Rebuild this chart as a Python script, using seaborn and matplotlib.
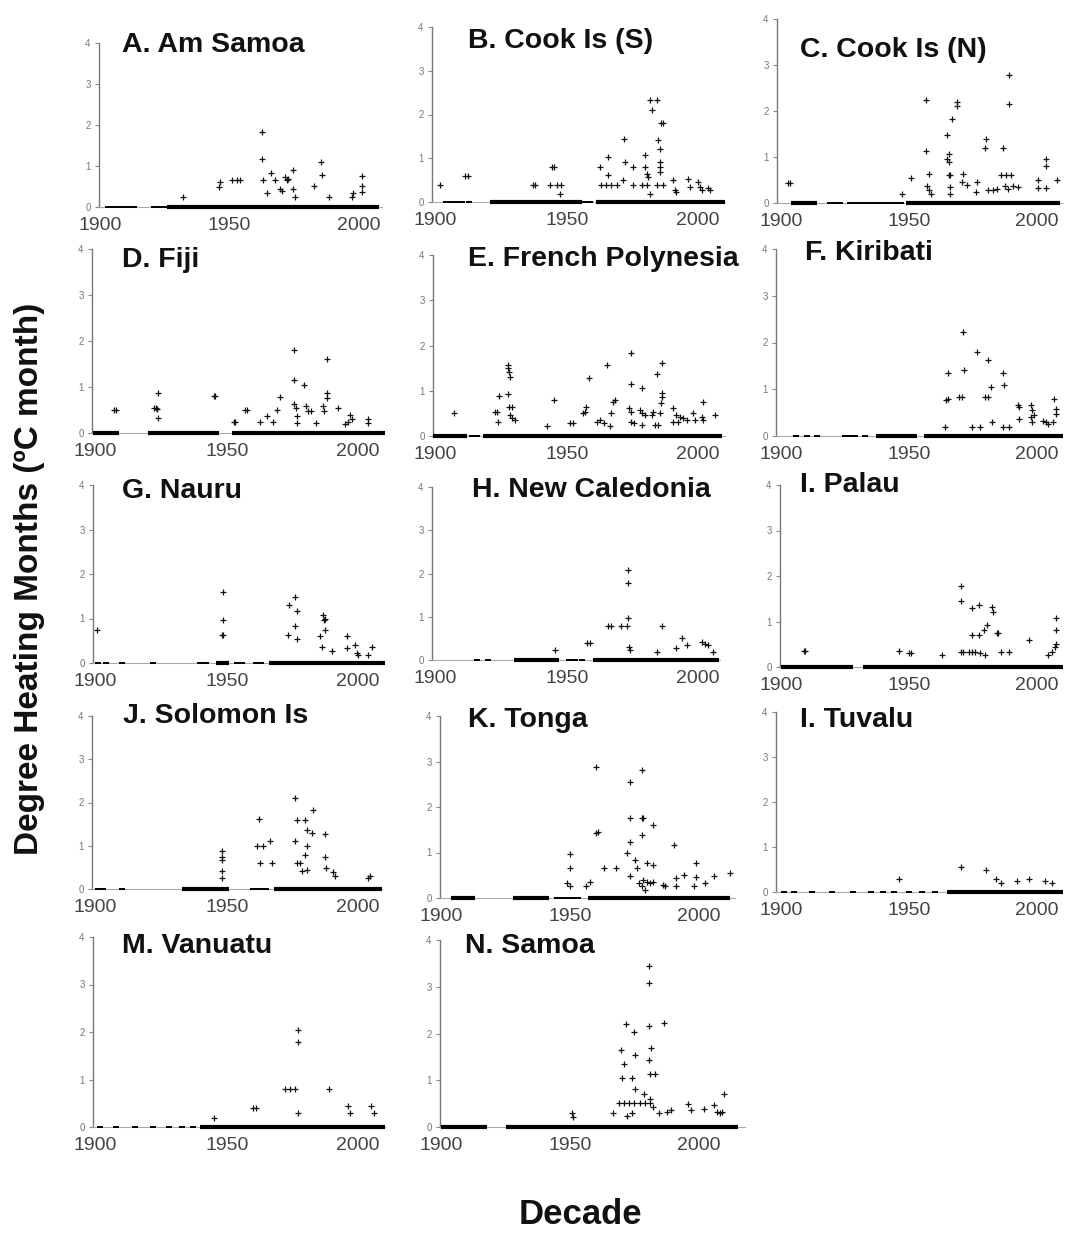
import matplotlib
matplotlib.use("Agg")
import matplotlib.pyplot as plt
import seaborn as sns
import pandas as pd

# ---------------- data (year, degree heating months) ----------------
A_title = "A. Am Samoa"
A_points = [(1932, 0.25), (1946, 0.5), (1946.5, 0.62), (1951, 0.65), (1953, 0.65), (1954, 0.65),
            (1962.7, 1.84), (1962.7, 1.18), (1963, 0.65), (1964.6, 0.34), (1966.2, 0.84), (1967.7, 0.65),
            (1969.6, 0.45), (1970.3, 0.39), (1971.5, 0.73), (1972.2, 0.65), (1972.8, 0.69), (1974.7, 0.9),
            (1974.7, 0.45), (1975.3, 0.25), (1982.9, 0.51), (1985.4, 1.1), (1986, 0.78), (1988.6, 0.25),
            (1997.5, 0.25), (1997.8, 0.34), (2001.3, 0.76), (2001.3, 0.51), (2001.3, 0.37)]
A_zero_years = [1903, 1905, 1907, 1909, 1911, 1913, 1921, 1923, 1925]
A_zero_spans = [(1926, 2008)]

B_title = "B. Cook Is (S)"
B_points = [(1902, 0.4), (1911.5, 0.6), (1912.5, 0.6), (1937.3, 0.4), (1938, 0.4), (1944.3, 0.8), (1945, 0.8),
            (1943.7, 0.4), (1946.2, 0.4), (1948, 0.4), (1947.5, 0.19), (1962.7, 0.8), (1965.8, 1.02),
            (1965.8, 0.61), (1963, 0.4), (1965, 0.4), (1967, 0.4), (1969, 0.4), (1971.5, 0.5), (1971.9, 1.44),
            (1972, 0.92), (1975.3, 0.8), (1975.3, 0.4), (1979.7, 1.07), (1979.7, 0.8), (1980.4, 0.63),
            (1981, 0.57), (1978.7, 0.4), (1980.6, 0.4), (1981.6, 0.19), (1981.6, 2.33), (1984.2, 2.33),
            (1982.3, 2.1), (1986, 1.81), (1986.7, 1.81), (1984.8, 1.41), (1985.4, 1.22), (1985.4, 0.92),
            (1985.4, 0.8), (1985.4, 0.69), (1984.2, 0.4), (1986.7, 0.4), (1990.5, 0.5), (1991.1, 0.27),
            (1991.7, 0.24), (1996.2, 0.52), (1996.8, 0.34), (2000, 0.46), (2000.6, 0.34), (2001.3, 0.27),
            (2003.8, 0.31), (2004.4, 0.27)]
B_zero_years = [1904, 1906, 1908, 1910, 1913, 1957, 1959]
B_zero_spans = [(1921, 1956), (1961, 2010)]

C_title = "C. Cook Is (N)"
C_points = [(1902.9, 0.44), (1903.5, 0.44), (1947.4, 0.2), (1950.9, 0.54), (1956.7, 2.25), (1956.5, 1.14),
            (1957.8, 0.64), (1957, 0.38), (1957.8, 0.28), (1958.4, 0.2), (1964.8, 1.47), (1966.8, 1.83),
            (1965.5, 1.07), (1964.8, 0.95), (1965.5, 0.9), (1965.5, 0.6), (1966, 0.6), (1966, 0.35),
            (1966, 0.2), (1968.7, 2.2), (1968.7, 2.1), (1970.9, 0.64), (1970.7, 0.46), (1972.6, 0.4),
            (1976.5, 0.46), (1976.1, 0.25), (1980, 1.4), (1979.8, 1.2), (1981, 0.28), (1983, 0.28),
            (1984.2, 0.31), (1986.8, 1.2), (1986.1, 0.6), (1988, 0.6), (1990, 0.6), (1987.4, 0.38),
            (1988.7, 0.31), (1990.6, 0.38), (1989, 2.78), (1989, 2.16), (1992.6, 0.35), (2000.3, 0.5),
            (2000.3, 0.32), (2003.5, 0.32), (2003.5, 0.95), (2003.5, 0.8), (2008, 0.5)]
C_zero_years = [1919, 1921, 1923, 1927, 1929, 1931, 1933, 1935, 1937, 1939, 1941, 1943, 1945, 1947]
C_zero_spans = [(1904, 1914), (1949, 2009)]

D_title = "D. Fiji"
D_points = [(1907, 0.5), (1908, 0.5), (1922.4, 0.55), (1923, 0.55), (1923.6, 0.52), (1924, 0.88), (1924, 0.33),
            (1945, 0.8), (1945.6, 0.8), (1952.6, 0.25), (1953.2, 0.25), (1957, 0.5), (1957.6, 0.5),
            (1962.8, 0.25), (1965.4, 0.38), (1967.6, 0.23), (1969, 0.5), (1970.3, 0.78), (1975.6, 1.81),
            (1975.6, 1.16), (1975.6, 0.62), (1976.2, 0.55), (1976.8, 0.38), (1976.8, 0.22), (1979.5, 1.05),
            (1980, 0.58), (1980.8, 0.47), (1982, 0.47), (1984, 0.22), (1986.5, 0.58), (1987, 0.47),
            (1988, 1.61), (1988, 0.87), (1988, 0.76), (1992.3, 0.55), (1995, 0.2), (1996, 0.25),
            (1997, 0.4), (1997.8, 0.3), (2003.8, 0.3), (2003.8, 0.22)]
D_zero_years = []
D_zero_spans = [(1899, 1909), (1920, 1947), (1952, 2010)]

E_title = "E. French Polynesia"
E_points = [(1907, 0.51), (1922.8, 0.52), (1923.6, 0.54), (1924, 0.32), (1924.3, 0.89), (1927.5, 1.57),
            (1927.8, 1.51), (1928, 1.42), (1928.5, 1.31), (1927.8, 0.93), (1928, 0.65), (1929.2, 0.65),
            (1928.5, 0.46), (1929.2, 0.39), (1930.4, 0.35), (1942.4, 0.23), (1945, 0.8), (1951.3, 0.28),
            (1952.5, 0.28), (1956.3, 0.5), (1956.9, 0.54), (1957.5, 0.65), (1958.6, 1.29), (1961.5, 0.32),
            (1962.7, 0.35), (1964, 0.28), (1965.2, 1.57), (1967, 0.5), (1967.6, 0.76), (1968.2, 0.8),
            (1966.3, 0.23), (1974.4, 1.84), (1974.4, 1.16), (1973.8, 0.61), (1974.4, 0.54), (1974.4, 0.32),
            (1975.6, 0.28), (1978.5, 1.05), (1977.8, 0.57), (1978.8, 0.5), (1979.7, 0.46), (1978.5, 0.24),
            (1982.3, 0.46), (1982.9, 0.54), (1983.5, 0.24), (1984.8, 0.24), (1984.2, 1.38), (1986.3, 1.62),
            (1986.3, 0.94), (1986.3, 0.87), (1985.8, 0.72), (1985.4, 0.5), (1990.5, 0.61), (1991.7, 0.46),
            (1993, 0.43), (1990.5, 0.32), (1992.4, 0.32), (1994.3, 0.39), (1995.6, 0.35), (1998.1, 0.5),
            (1998.7, 0.35), (2001.3, 0.43), (2001.9, 0.35), (2001.9, 0.76), (2006.3, 0.46)]
E_zero_years = [1914, 1916]
E_zero_spans = [(1899, 1912), (1918, 2009)]

F_title = "F. Kiribati"
F_points = [(1964, 0.2), (1964.6, 0.77), (1965.2, 0.8), (1965.2, 1.34), (1969.5, 0.84), (1970.8, 0.84),
            (1971, 2.23), (1971.4, 1.41), (1974.7, 0.2), (1976.6, 1.8), (1977.8, 0.2), (1979.7, 0.84),
            (1981, 0.84), (1981, 1.62), (1981.9, 1.05), (1982.3, 0.3), (1986.7, 1.34), (1987.3, 1.1),
            (1986.7, 0.2), (1989.2, 0.2), (1992.4, 0.66), (1993, 0.62), (1993, 0.37), (1997.5, 0.66),
            (1998.1, 0.55), (1997.5, 0.4), (1998.1, 0.3), (1998.7, 0.44), (2002.3, 0.33), (2003.5, 0.3),
            (2004.2, 0.26), (2006.7, 0.8), (2007.3, 0.58), (2007.3, 0.48), (2006.1, 0.3)]
F_zero_years = [1906, 1910, 1914, 1925, 1927, 1929, 1933]
F_zero_spans = [(1937, 1953), (1956, 2010)]

G_title = "G. Nauru"
G_points = [(1900.6, 0.75), (1948.7, 1.6), (1948.7, 0.97), (1948.1, 0.63), (1948.7, 0.63), (1973.4, 0.63),
            (1973.8, 1.3), (1976, 1.49), (1976.6, 1.16), (1976, 0.84), (1976.6, 0.55), (1985.4, 0.6),
            (1986.3, 0.37), (1986.7, 1.08), (1987, 0.97), (1987.3, 1.0), (1987.3, 0.75), (1989.9, 0.26),
            (1995.6, 0.6), (1995.6, 0.34), (1998.7, 0.41), (1999.4, 0.22), (2000, 0.19), (2003.8, 0.19),
            (2005.1, 0.37)]
G_zero_years = [1901, 1904, 1910, 1922, 1940, 1942, 1954, 1956, 1961, 1963]
G_zero_spans = [(1946, 1951), (1966, 2010)]

H_title = "H. New Caledonia"
H_points = [(1945.6, 0.23), (1957.6, 0.4), (1958.9, 0.4), (1965.8, 0.78), (1967, 0.78), (1970.8, 0.78),
            (1972.8, 0.78), (1973.4, 0.96), (1973.2, 2.08), (1973.2, 1.77), (1973.6, 0.31), (1974.2, 0.23),
            (1984.2, 0.19), (1986.1, 0.78), (1991.5, 0.27), (1993.7, 0.5), (1995.8, 0.35), (2001.3, 0.42),
            (2002.5, 0.38), (2003.8, 0.35), (2005.7, 0.19)]
H_zero_years = [1916, 1920, 1951, 1953, 1956]
H_zero_spans = [(1930, 1947), (1960, 2008)]

I_title = "I. Palau"
I_points = [(1908.9, 0.35), (1909.5, 0.35), (1946.2, 0.35), (1950, 0.31), (1950.6, 0.31), (1962.7, 0.26),
            (1970.3, 1.78), (1970.3, 1.46), (1970.3, 0.33), (1970.9, 0.33), (1973.4, 0.33), (1974.7, 0.33),
            (1975.9, 0.33), (1977.8, 0.3), (1979.7, 0.26), (1974.7, 1.29), (1977.2, 1.36), (1974.7, 0.7),
            (1977.2, 0.7), (1979.1, 0.81), (1980.4, 0.92), (1982.3, 1.32), (1982.9, 1.21), (1984.2, 0.75),
            (1984.8, 0.75), (1986.1, 0.33), (1989.2, 0.33), (1996.8, 0.6), (2004.4, 0.26), (2005.7, 0.33),
            (2006.9, 0.44), (2007.3, 0.81), (2007.6, 1.07), (2007.3, 0.51)]
I_zero_years = []
I_zero_spans = [(1900, 1928), (1932, 2010)]

J_title = "J. Solomon Is"
J_points = [(1948.1, 0.87), (1948.1, 0.75), (1948.1, 0.68), (1948.1, 0.41), (1948.1, 0.25), (1961.4, 1.0),
            (1963.9, 1.0), (1962.4, 1.62), (1962.7, 0.6), (1966.5, 1.1), (1967.1, 0.6), (1976, 2.1),
            (1976.6, 1.6), (1979.7, 1.6), (1976, 1.1), (1976.6, 0.6), (1977.8, 0.6), (1978.5, 0.41),
            (1979.7, 0.79), (1980.4, 0.45), (1980.4, 1.36), (1982.3, 1.3), (1980.4, 1.0), (1982.9, 1.82),
            (1987.3, 1.27), (1987.3, 0.75), (1987.7, 0.48), (1990.5, 0.4), (1991.1, 0.3), (2003.8, 0.25),
            (2004.4, 0.29)]
J_zero_years = [1901, 1903, 1910, 1960, 1962, 1964, 1965]
J_zero_spans = [(1933, 1951), (1968, 2009)]

K_title = "K. Tonga"
K_points = [(1950, 0.96), (1950, 0.67), (1948.7, 0.33), (1950, 0.27), (1956.3, 0.26), (1957.6, 0.36),
            (1960.1, 2.88), (1960.1, 1.42), (1960.8, 1.46), (1963.3, 0.67), (1967.7, 0.67), (1972.2, 1.0),
            (1973.4, 2.55), (1973.4, 1.75), (1973.4, 1.23), (1973.4, 0.49), (1975.3, 0.84), (1975.9, 0.66),
            (1977.8, 2.81), (1977.8, 1.75), (1978.5, 1.75), (1977.8, 1.39), (1976.6, 0.33), (1977.8, 0.26),
            (1978.5, 0.4), (1979.1, 0.18), (1979.7, 0.36), (1981, 0.33), (1982.3, 0.36), (1979.7, 0.77),
            (1982.3, 0.73), (1982.3, 1.6), (1986.1, 0.29), (1986.7, 0.26), (1990.5, 1.17), (1991.1, 0.26),
            (1991.1, 0.44), (1994.3, 0.51), (1998.1, 0.26), (1998.7, 0.77), (1998.7, 0.47), (2002.5, 0.33),
            (2005.7, 0.49), (2012, 0.56)]
K_zero_years = [1945, 1947, 1949, 1951, 1953]
K_zero_spans = [(1904, 1913), (1928, 1942), (1957, 2012)]

L_title = "I. Tuvalu"
L_points = [(1946, 0.3), (1970.5, 0.55), (1980, 0.5), (1984, 0.3), (1986, 0.2), (1992, 0.25),
            (1997, 0.28), (2003, 0.25), (2006, 0.2)]
L_zero_years = [1901, 1905, 1912, 1920, 1928, 1935, 1940, 1944, 1950, 1955, 1960]
L_zero_spans = [(1965, 2010)]

M_title = "M. Vanuatu"
M_points = [(1945, 0.2), (1960, 0.4), (1961, 0.4), (1972, 0.8), (1974, 0.8), (1976, 0.8), (1977, 2.05),
            (1977, 1.8), (1977, 0.3), (1989, 0.8), (1996, 0.45), (1997, 0.3), (2005, 0.45), (2006, 0.3)]
M_zero_years = [1902, 1908, 1915, 1922, 1928, 1933, 1937]
M_zero_spans = [(1940, 2010)]

N_title = "N. Samoa"
N_points = [(1950.6, 0.29), (1951.3, 0.21), (1966.5, 0.29), (1969.6, 1.64), (1970.9, 1.34), (1970.3, 1.04),
            (1974.1, 1.04), (1968.9, 0.51), (1970.9, 0.51), (1972.8, 0.51), (1974.7, 0.51), (1972.2, 0.23),
            (1974.1, 0.29), (1971.5, 2.2), (1974.7, 2.04), (1975, 1.54), (1975.3, 0.82), (1978.5, 0.71),
            (1977.2, 0.51), (1979.1, 0.51), (1981, 0.51), (1981, 0.6), (1980.6, 3.44), (1980.6, 3.07),
            (1980.6, 2.16), (1981.3, 1.69), (1980.6, 1.43), (1981, 1.13), (1982.9, 1.13), (1982.3, 0.43),
            (1984.5, 0.29), (1986.3, 2.23), (1987.6, 0.32), (1989.2, 0.36), (1995.6, 0.5), (1996.8, 0.36),
            (2001.9, 0.39), (2005.7, 0.46), (2007, 0.32), (2008.2, 0.29), (2008.9, 0.32), (2009.5, 0.71)]
N_zero_years = []
N_zero_spans = [(1900, 1918), (1925, 2015)]

y_ticks = [0, 1, 2, 3, 4]
x_ticks = [1900, 1950, 2000]
y_label = "Degree Heating Months (ºC month)"
x_label = "Decade"

# ---------------- layout (pixels) ----------------
W, H = 1068, 1239
# panel: (title, points, zero years, zero spans, column, axes rect l,t,r,b, title x, title baseline y)
panels = [
    (A_title, A_points, A_zero_years, A_zero_spans, 0, (99, 43, 382, 207), 122, 52),
    (B_title, B_points, B_zero_years, B_zero_spans, 1, (432, 27, 725, 202), 468, 48),
    (C_title, C_points, C_zero_years, C_zero_spans, 2, (777, 19, 1062, 203), 800, 57),
    (D_title, D_points, D_zero_years, D_zero_spans, 0, (92, 249, 382, 433), 122, 267),
    (E_title, E_points, E_zero_years, E_zero_spans, 1, (433, 255, 725, 436), 468, 266),
    (F_title, F_points, F_zero_years, F_zero_spans, 2, (776, 249, 1062, 436), 805, 260),
    (G_title, G_points, G_zero_years, G_zero_spans, 0, (93, 485, 382, 663), 122, 498),
    (H_title, H_points, H_zero_years, H_zero_spans, 1, (432, 487, 720, 660), 472, 497),
    (I_title, I_points, I_zero_years, I_zero_spans, 2, (780, 485, 1062, 667), 800, 492),
    (J_title, J_points, J_zero_years, J_zero_spans, 0, (92, 716, 382, 889), 123, 723),
    (K_title, K_points, K_zero_years, K_zero_spans, 1, (440, 716, 735, 898), 468, 727),
    (L_title, L_points, L_zero_years, L_zero_spans, 2, (776, 712, 1062, 892), 800, 727),
    (M_title, M_points, M_zero_years, M_zero_spans, 0, (93, 937, 385, 1127), 122, 953),
    (N_title, N_points, N_zero_years, N_zero_spans, 1, (440, 940, 745, 1127), 465, 953),
]
col_x1950 = [226.7, 566.7, 909.0]
col_ppy = [2.63, 2.63, 2.56]

sns.set_theme(style="white")
plt.rcParams['font.family'] = ['Liberation Sans', 'DejaVu Sans']

fig = plt.figure(figsize=(W / 100, H / 100), dpi=100)

for title, pts, zyears, zspans, col, (l, t, r, b), tx, ty in panels:
    ax = fig.add_axes([l / W, 1 - b / H, (r - l) / W, (b - t) / H])
    x0 = 1950 + (l - col_x1950[col]) / col_ppy[col]
    x1 = 1950 + (r - col_x1950[col]) / col_ppy[col]
    x0 = min(x0, 1899.6)

    df = pd.DataFrame(pts, columns=["year", "dhm"])
    for s, e in zspans:
        ax.hlines(0, s, e, colors="black", lw=3.0, clip_on=False, zorder=3)
    if zyears:
        dz = pd.DataFrame({"year": zyears, "dhm": [0] * len(zyears)})
        sns.scatterplot(data=dz, x="year", y="dhm", marker="_", s=22, color="black",
                        linewidth=1.4, ax=ax, clip_on=False, legend=False, zorder=3)
    sns.scatterplot(data=df, x="year", y="dhm", marker="+", s=16, color="#111111",
                    linewidth=0.9, ax=ax, clip_on=False, legend=False, zorder=4)

    ax.set_xlim(x0, x1)
    ax.set_ylim(0, 4)
    ax.set_xticks(x_ticks)
    ax.set_yticks(y_ticks)
    ax.set_xlabel("")
    ax.set_ylabel("")
    ax.patch.set_alpha(0)
    for sp in ["top", "right"]:
        ax.spines[sp].set_visible(False)
    ax.spines["left"].set_color("#777777")
    ax.spines["left"].set_linewidth(1.0)
    ax.spines["bottom"].set_color("#aaaaaa")
    ax.spines["bottom"].set_linewidth(0.8)
    ax.tick_params(axis="y", direction="out", length=3, width=0.8, color="#888888",
                   labelsize=7, labelcolor="#777777", pad=3, left=True)
    ax.tick_params(axis="x", length=0, labelsize=13, labelcolor="#444444", pad=7)
    for lab in ax.get_xticklabels():
        lab.set_family(["Liberation Sans Narrow", "Liberation Sans", "DejaVu Sans"])
        lab.set_fontsize(14)

    fig.text(tx / W, 1 - ty / H, title, fontsize=20.5, fontweight="bold",
             ha="left", va="baseline", color="#111111")

fig.text(30 / W, 1 - 579 / H, y_label, rotation=90, fontsize=24, fontweight="bold",
         ha="center", va="center", color="#111111")
fig.text(580 / W, 1 - 1215 / H, x_label, fontsize=25, fontweight="bold",
         ha="center", va="center", color="#111111",
         family=["Liberation Sans Narrow", "Liberation Sans", "DejaVu Sans"])

fig.savefig("out.png", dpi=100)
